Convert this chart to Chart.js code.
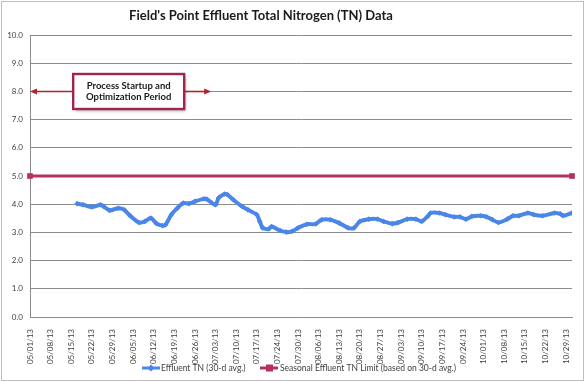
<!DOCTYPE html>
<html><head><meta charset="utf-8">
<script src="https://cdn.jsdelivr.net/npm/chart.js@4.4.1/dist/chart.umd.min.js"></script>
<style>html,body{margin:0;padding:0;background:#fff}#wrap{width:585px;height:382px;position:relative}</style>
</head><body><div id="wrap"><canvas id="c" width="585" height="382"></canvas></div>
<script>
const chartTitle = "Field's Point Effluent Total Nitrogen (TN) Data";
const tickLabels = ['05/01/13','05/08/13','05/15/13','05/22/13','05/29/13','06/05/13','06/12/13','06/19/13','06/26/13','07/03/13','07/10/13','07/17/13','07/24/13','07/30/13','08/06/13','08/13/13','08/20/13','08/27/13','09/03/13','09/10/13','09/17/13','09/24/13','10/01/13','10/08/13','10/15/13','10/22/13','10/29/13'];
// day index from 05/01/13 (category position)
const effluentDays = [16,18,21,24,25,27,30,32,34,37,39,41,43,45,46,48,50,52,54,56,59,60,63,64,66,67,69,72,74,77,78,79,81,82,85,87,89,91,94,97,99,102,105,108,110,112,115,118,120,123,125,128,131,133,135,136,139,141,144,146,148,150,153,155,157,159,162,164,166,169,171,174,178,180,181,184];
const effluentTN = [4.02,3.98,3.90,3.98,3.92,3.78,3.86,3.80,3.59,3.35,3.39,3.51,3.31,3.24,3.27,3.63,3.86,4.04,4.02,4.10,4.19,4.18,3.98,4.22,4.36,4.34,4.16,3.92,3.80,3.63,3.39,3.16,3.12,3.21,3.06,3.01,3.04,3.16,3.29,3.30,3.45,3.45,3.33,3.16,3.16,3.39,3.47,3.47,3.39,3.31,3.35,3.47,3.47,3.39,3.57,3.69,3.69,3.63,3.55,3.55,3.47,3.57,3.59,3.55,3.45,3.35,3.47,3.59,3.59,3.69,3.63,3.59,3.69,3.66,3.59,3.69];
const limitDays = [0, 184];
const limitTN = [5.0, 5.0];
const seriesNames = ['Effluent TN (30-d avg.)', 'Seasonal Effluent TN Limit (based on 30-d avg.)'];
const annotationLines = ['Process Startup and', 'Optimization Period'];

const BLUE = '#4A86E8', RED = '#B3325F', ARROW = '#B2222E';
const FONT = 'Lato, "Open Sans", sans-serif';

const decor = {
  id: 'decor',
  beforeDraw(chart) {
    const ctx = chart.ctx;
    ctx.save();
    ctx.fillStyle = '#fff';
    ctx.fillRect(0, 0, chart.width, chart.height);
    ctx.strokeStyle = '#BDBDBD';
    ctx.lineWidth = 1;
    ctx.strokeRect(1.5, 1.5, chart.width - 3, chart.height - 3);
    ctx.restore();
  },
  afterDatasetsDraw(chart) {
    const { ctx, scales: { x, y } } = chart;
    const yy = Math.round(y.getPixelForValue(8.0)) + 0.5;
    const xl = x.getPixelForValue(0), xr = x.getPixelForValue(61.5);
    const cx = x.getPixelForValue(33.5);
    const bw = 111, bh = 35;
    const bx = cx - bw / 2, by = yy - bh / 2;
    ctx.save();
    ctx.strokeStyle = ARROW; ctx.fillStyle = ARROW; ctx.lineWidth = 1.6;
    ctx.beginPath(); ctx.moveTo(bx, yy); ctx.lineTo(xl + 5, yy); ctx.stroke();
    ctx.beginPath(); ctx.moveTo(xl, yy); ctx.lineTo(xl + 7, yy - 3); ctx.lineTo(xl + 7, yy + 3); ctx.closePath(); ctx.fill();
    ctx.beginPath(); ctx.moveTo(bx + bw, yy); ctx.lineTo(xr - 5, yy); ctx.stroke();
    ctx.beginPath(); ctx.moveTo(xr, yy); ctx.lineTo(xr - 7, yy - 3); ctx.lineTo(xr - 7, yy + 3); ctx.closePath(); ctx.fill();
    ctx.shadowColor = 'rgba(0,0,0,0.35)'; ctx.shadowBlur = 3; ctx.shadowOffsetX = 2; ctx.shadowOffsetY = 2;
    ctx.fillStyle = '#fff'; ctx.fillRect(bx, by, bw, bh);
    ctx.shadowColor = 'transparent';
    ctx.strokeStyle = '#A3244A'; ctx.lineWidth = 2.4;
    ctx.strokeRect(bx, by, bw, bh);
    ctx.fillStyle = '#1a1a1a';
    ctx.font = 'bold 9.5px ' + FONT;
    ctx.textAlign = 'center'; ctx.textBaseline = 'middle';
    ctx.fillText(annotationLines[0], cx, yy - 6);
    ctx.fillText(annotationLines[1], cx, yy + 5.5);
    ctx.restore();
  },
  afterDraw(chart) {
    const ctx = chart.ctx;
    ctx.save();
    ctx.fillStyle = '#1a1a1a';
    ctx.font = 'bold 13px ' + FONT;
    ctx.textAlign = 'center'; ctx.textBaseline = 'middle';
    ctx.fillText(chartTitle, 261, 16);
    const ly = 368;
    ctx.font = '8.5px ' + FONT;
    ctx.textAlign = 'left';
    ctx.strokeStyle = BLUE; ctx.lineWidth = 3;
    ctx.beginPath(); ctx.moveTo(142, ly); ctx.lineTo(160, ly); ctx.stroke();
    ctx.fillStyle = BLUE;
    ctx.beginPath(); ctx.moveTo(151, ly - 3.5); ctx.lineTo(154.5, ly); ctx.lineTo(151, ly + 3.5); ctx.lineTo(147.5, ly); ctx.closePath(); ctx.fill();
    ctx.fillStyle = '#404040';
    ctx.fillText(seriesNames[0], 161, ly);
    ctx.strokeStyle = RED;
    ctx.beginPath(); ctx.moveTo(260, ly); ctx.lineTo(278, ly); ctx.stroke();
    ctx.fillStyle = RED; ctx.fillRect(266, ly - 3.5, 7, 7);
    ctx.fillStyle = '#404040';
    ctx.fillText(seriesNames[1], 280, ly);
    ctx.restore();
  }
};

new Chart(document.getElementById('c'), {
  type: 'line',
  data: {
    datasets: [
      {
        label: seriesNames[0],
        data: effluentDays.map((d, i) => ({ x: d, y: effluentTN[i] })),
        borderColor: BLUE, backgroundColor: BLUE, borderWidth: 4,
        pointStyle: 'rectRot', pointRadius: 2.8, pointBorderWidth: 0,
        tension: 0.25
      },
      {
        label: seriesNames[1],
        data: limitDays.map((d, i) => ({ x: d, y: limitTN[i] })),
        borderColor: RED, backgroundColor: RED, borderWidth: 3,
        pointStyle: 'rect', pointRadius: 4, pointBorderWidth: 0,
        clip: false
      }
    ]
  },
  options: {
    responsive: false, devicePixelRatio: 1, animation: false,
    layout: { padding: { top: 35, right: 13, left: 0, bottom: 0 } },
    plugins: { legend: { display: false }, title: { display: false }, tooltip: { enabled: false } },
    scales: {
      x: {
        type: 'linear', min: 0, max: 184,
        afterFit(s) { s.height = 65; },
        afterBuildTicks(s) { s.ticks = tickLabels.map((_, i) => ({ value: i * 7 })); },
        grid: { display: false },
        border: { display: true, color: '#8C8C8C', width: 1 },
        ticks: {
          autoSkip: false, minRotation: 90, maxRotation: 90, padding: 4,
          color: '#404040', font: { family: FONT, size: 8 },
          callback: (v) => tickLabels[Math.round(v / 7)]
        }
      },
      y: {
        min: 0, max: 10,
        afterFit(s) { s.width = 30; },
        grid: { color: '#8C8C8C', lineWidth: 1, drawTicks: false },
        border: { display: true, color: '#8C8C8C', width: 1 },
        ticks: {
          stepSize: 1, padding: 7, color: '#404040', font: { family: FONT, size: 8 },
          callback: (v) => v.toFixed(1)
        }
      }
    }
  },
  plugins: [decor]
});
</script></body></html>
